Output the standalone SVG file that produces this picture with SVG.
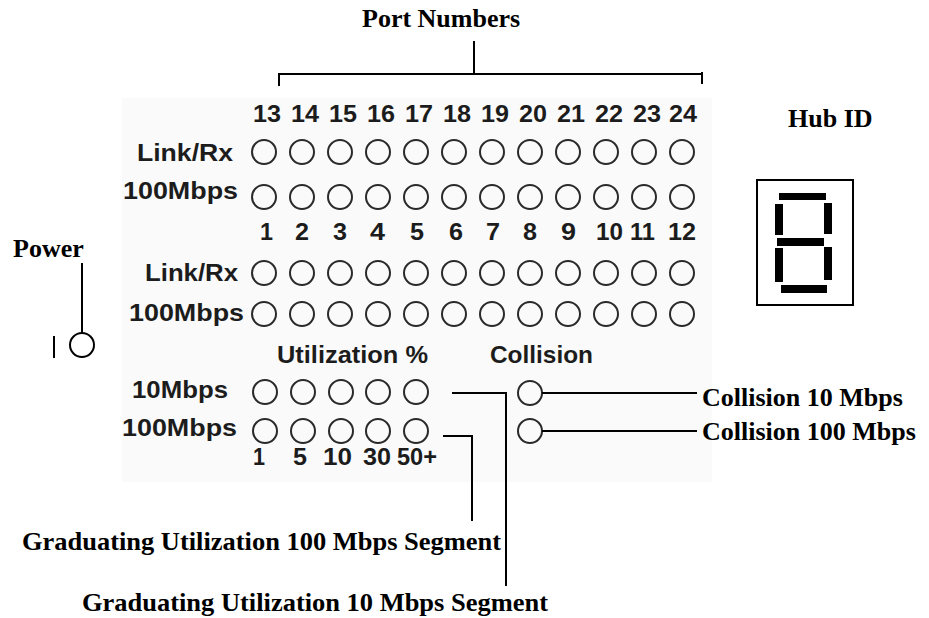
<svg xmlns="http://www.w3.org/2000/svg" width="929" height="618" viewBox="0 0 929 618">
<style>
.p{font-family:"Liberation Sans",Arial,sans-serif;font-weight:bold;font-size:24px;fill:#1c1c1c}
.l{font-family:"Liberation Serif","Times New Roman",serif;font-weight:bold;font-size:26px;fill:#000}
.led{fill:none;stroke:#2a2a2a;stroke-width:2}
.c{fill:none;stroke:#000;stroke-width:2}
.seg{fill:#000}
</style>
<defs>
<g id="row12">
<circle class="led" cx="264" cy="0" r="12"/><circle class="led" cx="302" cy="0" r="12"/><circle class="led" cx="340" cy="0" r="12"/><circle class="led" cx="378" cy="0" r="12"/><circle class="led" cx="416" cy="0" r="12"/><circle class="led" cx="454" cy="0" r="12"/><circle class="led" cx="492" cy="0" r="12"/><circle class="led" cx="530" cy="0" r="12"/><circle class="led" cx="568" cy="0" r="12"/><circle class="led" cx="606" cy="0" r="12"/><circle class="led" cx="644" cy="0" r="12"/><circle class="led" cx="682" cy="0" r="12"/>
</g>
<g id="row5">
<circle class="led" cx="265" cy="0" r="12"/><circle class="led" cx="303" cy="0" r="12"/><circle class="led" cx="341" cy="0" r="12"/><circle class="led" cx="378" cy="0" r="12"/><circle class="led" cx="416" cy="0" r="12"/>
</g>
</defs>
<rect x="122" y="98" width="590" height="384" fill="#fafafa"/>

<g id="panel-top">
<text class="p" y="122" x="253" textLength="28" lengthAdjust="spacingAndGlyphs">13</text>
<text class="p" y="122" x="291" textLength="28" lengthAdjust="spacingAndGlyphs">14</text>
<text class="p" y="122" x="329" textLength="28" lengthAdjust="spacingAndGlyphs">15</text>
<text class="p" y="122" x="367" textLength="28" lengthAdjust="spacingAndGlyphs">16</text>
<text class="p" y="122" x="405" textLength="28" lengthAdjust="spacingAndGlyphs">17</text>
<text class="p" y="122" x="443" textLength="28" lengthAdjust="spacingAndGlyphs">18</text>
<text class="p" y="122" x="481" textLength="28" lengthAdjust="spacingAndGlyphs">19</text>
<text class="p" y="122" x="519" textLength="28" lengthAdjust="spacingAndGlyphs">20</text>
<text class="p" y="122" x="557" textLength="28" lengthAdjust="spacingAndGlyphs">21</text>
<text class="p" y="122" x="595" textLength="28" lengthAdjust="spacingAndGlyphs">22</text>
<text class="p" y="122" x="633" textLength="28" lengthAdjust="spacingAndGlyphs">23</text>
<text class="p" y="122" x="669" textLength="28" lengthAdjust="spacingAndGlyphs">24</text>
<text class="p" x="137" y="161" textLength="96" lengthAdjust="spacingAndGlyphs">Link/Rx</text>
<use href="#row12" y="152"/>
<text class="p" x="123" y="199" textLength="115" lengthAdjust="spacingAndGlyphs">100Mbps</text>
<use href="#row12" y="197"/>
<text class="p" y="240" x="260" textLength="13" lengthAdjust="spacingAndGlyphs">1</text>
<text class="p" y="240" x="295" textLength="14" lengthAdjust="spacingAndGlyphs">2</text>
<text class="p" y="240" x="333" textLength="14" lengthAdjust="spacingAndGlyphs">3</text>
<text class="p" y="240" x="370" textLength="15" lengthAdjust="spacingAndGlyphs">4</text>
<text class="p" y="240" x="410" textLength="14" lengthAdjust="spacingAndGlyphs">5</text>
<text class="p" y="240" x="449" textLength="14" lengthAdjust="spacingAndGlyphs">6</text>
<text class="p" y="240" x="486" textLength="14" lengthAdjust="spacingAndGlyphs">7</text>
<text class="p" y="240" x="523" textLength="14" lengthAdjust="spacingAndGlyphs">8</text>
<text class="p" y="240" x="561" textLength="15" lengthAdjust="spacingAndGlyphs">9</text>
<text class="p" y="240" x="596" textLength="27" lengthAdjust="spacingAndGlyphs">10</text>
<text class="p" y="240" x="630" textLength="25" lengthAdjust="spacingAndGlyphs">11</text>
<text class="p" y="240" x="668" textLength="28" lengthAdjust="spacingAndGlyphs">12</text>
</g>

<g id="panel-bottom">
<text class="p" x="145" y="281" textLength="93" lengthAdjust="spacingAndGlyphs">Link/Rx</text>
<use href="#row12" y="273"/>
<text class="p" x="129" y="321" textLength="115" lengthAdjust="spacingAndGlyphs">100Mbps</text>
<use href="#row12" y="314"/>
</g>

<g id="utilization">
<text class="p" x="277" y="363" textLength="151" lengthAdjust="spacingAndGlyphs">Utilization %</text>
<text class="p" x="132" y="398" textLength="96" lengthAdjust="spacingAndGlyphs">10Mbps</text>
<use href="#row5" y="392"/>
<text class="p" x="122" y="436" textLength="115" lengthAdjust="spacingAndGlyphs">100Mbps</text>
<use href="#row5" y="431"/>
<text class="p" y="465" x="253" textLength="12" lengthAdjust="spacingAndGlyphs">1</text>
<text class="p" y="465" x="293" textLength="14" lengthAdjust="spacingAndGlyphs">5</text>
<text class="p" y="465" x="323" textLength="29" lengthAdjust="spacingAndGlyphs">10</text>
<text class="p" y="465" x="363" textLength="28" lengthAdjust="spacingAndGlyphs">30</text>
<text class="p" y="465" x="397" textLength="40" lengthAdjust="spacingAndGlyphs">50+</text>
</g>

<g id="collision">
<text class="p" x="490" y="363" textLength="103" lengthAdjust="spacingAndGlyphs">Collision</text>
<circle class="led" cx="530" cy="393" r="12"/>
<circle class="led" cx="530" cy="431" r="12"/>
</g>

<g id="power">
<text class="l" x="13" y="257">Power</text>
<circle class="c" cx="82" cy="345" r="12"/>
<line class="c" x1="54" y1="336" x2="54" y2="358"/>
</g>

<g id="hub-id">
<text class="l" x="788" y="127">Hub ID</text>
<rect class="c" x="757" y="180" width="96" height="125"/>
<rect class="seg" x="779" y="193" width="47" height="7"/>
<rect class="seg" x="775" y="204" width="8" height="31"/>
<rect class="seg" x="824" y="203" width="8" height="31"/>
<rect class="seg" x="777" y="238" width="47" height="8"/>
<rect class="seg" x="775" y="248" width="8" height="34"/>
<rect class="seg" x="824" y="247" width="8" height="33"/>
<rect class="seg" x="781" y="285" width="46" height="8"/>
</g>

<g id="labels">
<text class="l" x="362" y="27">Port Numbers</text>
<text class="l" x="702" y="406">Collision 10 Mbps</text>
<text class="l" x="702" y="440">Collision 100 Mbps</text>
<text class="l" x="22" y="550" textLength="479" lengthAdjust="spacingAndGlyphs">Graduating Utilization 100 Mbps Segment</text>
<text class="l" x="82" y="611" textLength="466" lengthAdjust="spacingAndGlyphs">Graduating Utilization 10 Mbps Segment</text>
</g>

<g id="connectors">
<path class="c" d="M279,86 V74 H702 M702,72 V84 M474,41 V74"/>
<path class="c" d="M82,263 V333"/>
<path class="c" d="M542,393 H697"/>
<path class="c" d="M542,431 H697"/>
<path class="c" d="M452,393 H506 V586"/>
<path class="c" d="M443,436 H472 V521"/>
</g>
</svg>
